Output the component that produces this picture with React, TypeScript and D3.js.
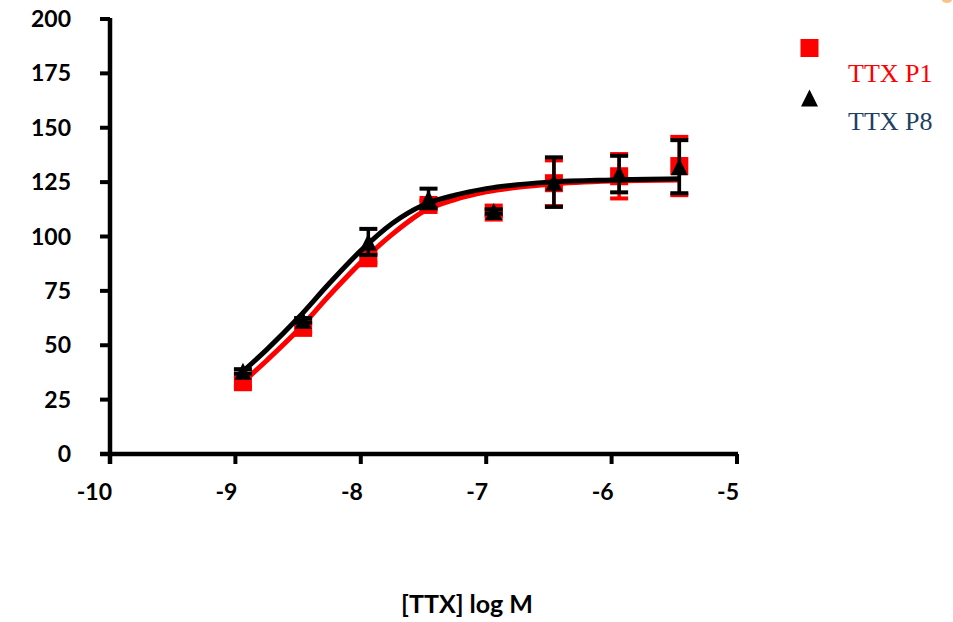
import * as React from "react";
import * as d3 from "d3";

// log concentrations of the measured points
const logConc = [-8.94, -8.46, -7.94, -7.46, -6.94, -6.46, -5.94, -5.46];

// TTX P1 (red squares)
const p1Mean = [33, 58, 90, 114.5, 111, 124.5, 127.7, 132.4];
const p1Err = [2, 2, 2, 2, 1.5, 10.5, 10.2, 13.4];

// TTX P8 (black triangles)
const p8Mean = [38, 61.5, 97.5, 117.5, 111.5, 125, 128.7, 132.1];
const p8Err = [1, 1, 6, 4.5, 1, 11.4, 8.4, 12.2];

// fitted curves
const p1CurveX = [-8.94, -8.75, -8.5, -8.25, -8, -7.75, -7.5, -7.25, -7, -6.5, -6, -5.46];
const p1CurveY = [33, 43, 57, 73, 88, 101, 111.5, 117, 120.5, 124, 125.5, 126];
const p8CurveX = [-8.94, -8.75, -8.5, -8.25, -8, -7.75, -7.5, -7.25, -7, -6.5, -6, -5.46];
const p8CurveY = [38, 48, 62.5, 78.5, 93.5, 106, 114.5, 119, 122, 125, 126, 126.5];

const xTicks = [-10, -9, -8, -7, -6, -5];
const yTicks = [0, 25, 50, 75, 100, 125, 150, 175, 200];

const legendNames = ["TTX P1", "TTX P8"];

export default function App() {
  const width = 953;
  const height = 622;

  const x = d3.scaleLinear().domain([-10, -5]).range([110, 737]);
  const y = d3.scaleLinear().domain([0, 200]).range([454, 19]);

  const line = d3
    .line<[number, number]>()
    .x(d => x(d[0]))
    .y(d => y(d[1]))
    .curve(d3.curveMonotoneX);

  const p1Curve = p1CurveX.map((v, i) => [v, p1CurveY[i]] as [number, number]);
  const p8Curve = p8CurveX.map((v, i) => [v, p8CurveY[i]] as [number, number]);

  const sq = 18;
  const triW = 17;
  const triH = 17;
  const cap = 9;
  const tick = 10;
  const labelFont = "Lato, 'Open Sans', sans-serif";

  const square = (cx: number, cy: number, color: string, key: string) => (
    <rect key={key} x={cx - sq / 2} y={cy - sq / 2} width={sq} height={sq} fill={color} />
  );
  const triangle = (cx: number, cy: number, key: string) => (
    <path
      key={key}
      d={"M" + cx + "," + (cy - triH / 2) + "L" + (cx + triW / 2) + "," + (cy + triH / 2) + "L" + (cx - triW / 2) + "," + (cy + triH / 2) + "Z"}
      fill="#000"
    />
  );
  const errBar = (cx: number, m: number, e: number, color: string, key: string) => (
    <g key={key} stroke={color}>
      <line x1={cx} x2={cx} y1={y(m - e)} y2={y(m + e)} strokeWidth={3.5} />
      <line x1={cx - cap} x2={cx + cap} y1={y(m + e)} y2={y(m + e)} strokeWidth={4} />
      <line x1={cx - cap} x2={cx + cap} y1={y(m - e)} y2={y(m - e)} strokeWidth={4} />
    </g>
  );

  return (
    <svg width={width} height={height} style={{ position: "absolute", left: 0, top: 0, background: "#fff" }}>
      <ellipse cx={947} cy={0} rx={5} ry={3} fill="#F6B26B" opacity={0.8} />

      {/* axes */}
      <g stroke="#000" strokeWidth={4.5} fill="none">
        <line x1={x(-10)} x2={x(-10)} y1={y(200) - 1} y2={y(0) + tick} />
        <line x1={x(-10) - tick} x2={x(-5) + 1} y1={y(0)} y2={y(0)} />
        {yTicks.map(t => (
          <line key={"yt" + t} x1={x(-10) - tick} x2={x(-10)} y1={y(t)} y2={y(t)} strokeWidth={4} />
        ))}
        {xTicks.map(t => (
          <line key={"xt" + t} x1={x(t)} x2={x(t)} y1={y(0)} y2={y(0) + tick} strokeWidth={4} />
        ))}
      </g>
      <g fontFamily={labelFont} fontWeight="bold" fontSize={23} fill="#000">
        {yTicks.map(t => (
          <text key={"yl" + t} x={71} y={y(t) + 8} textAnchor="end">
            {t}
          </text>
        ))}
        {xTicks.map(t => (
          <text key={"xl" + t} x={x(t) + 2} y={500} textAnchor="end">
            {t}
          </text>
        ))}
        <text x={467} y={613} textAnchor="middle" fontSize={25}>
          [TTX] log M
        </text>
      </g>

      {/* TTX P1 */}
      {logConc.map((v, i) => square(x(v), y(p1Mean[i]), "#FF0000", "p1m" + i))}
      {logConc.map((v, i) => errBar(x(v), p1Mean[i], p1Err[i], "#FF0000", "p1e" + i))}
      <path d={line(p1Curve) || ""} fill="none" stroke="#FF0000" strokeWidth={5} />

      {/* TTX P8 */}
      {logConc.map((v, i) => triangle(x(v), y(p8Mean[i]), "p8m" + i))}
      {logConc.map((v, i) => errBar(x(v), p8Mean[i], p8Err[i], "#000", "p8e" + i))}
      <path d={line(p8Curve) || ""} fill="none" stroke="#000" strokeWidth={5} />

      {/* legend */}
      {square(809.5, 48, "#FF0000", "lg1")}
      {triangle(809.5, 98, "lg2")}
      <g fontFamily="'Liberation Serif', 'DejaVu Serif', serif" fontSize={26}>
        <text x={848} y={82} fill="#FF0000">
          {legendNames[0]}
        </text>
        <text x={848} y={130} fill="#1F3F63">
          {legendNames[1]}
        </text>
      </g>
    </svg>
  );
}
